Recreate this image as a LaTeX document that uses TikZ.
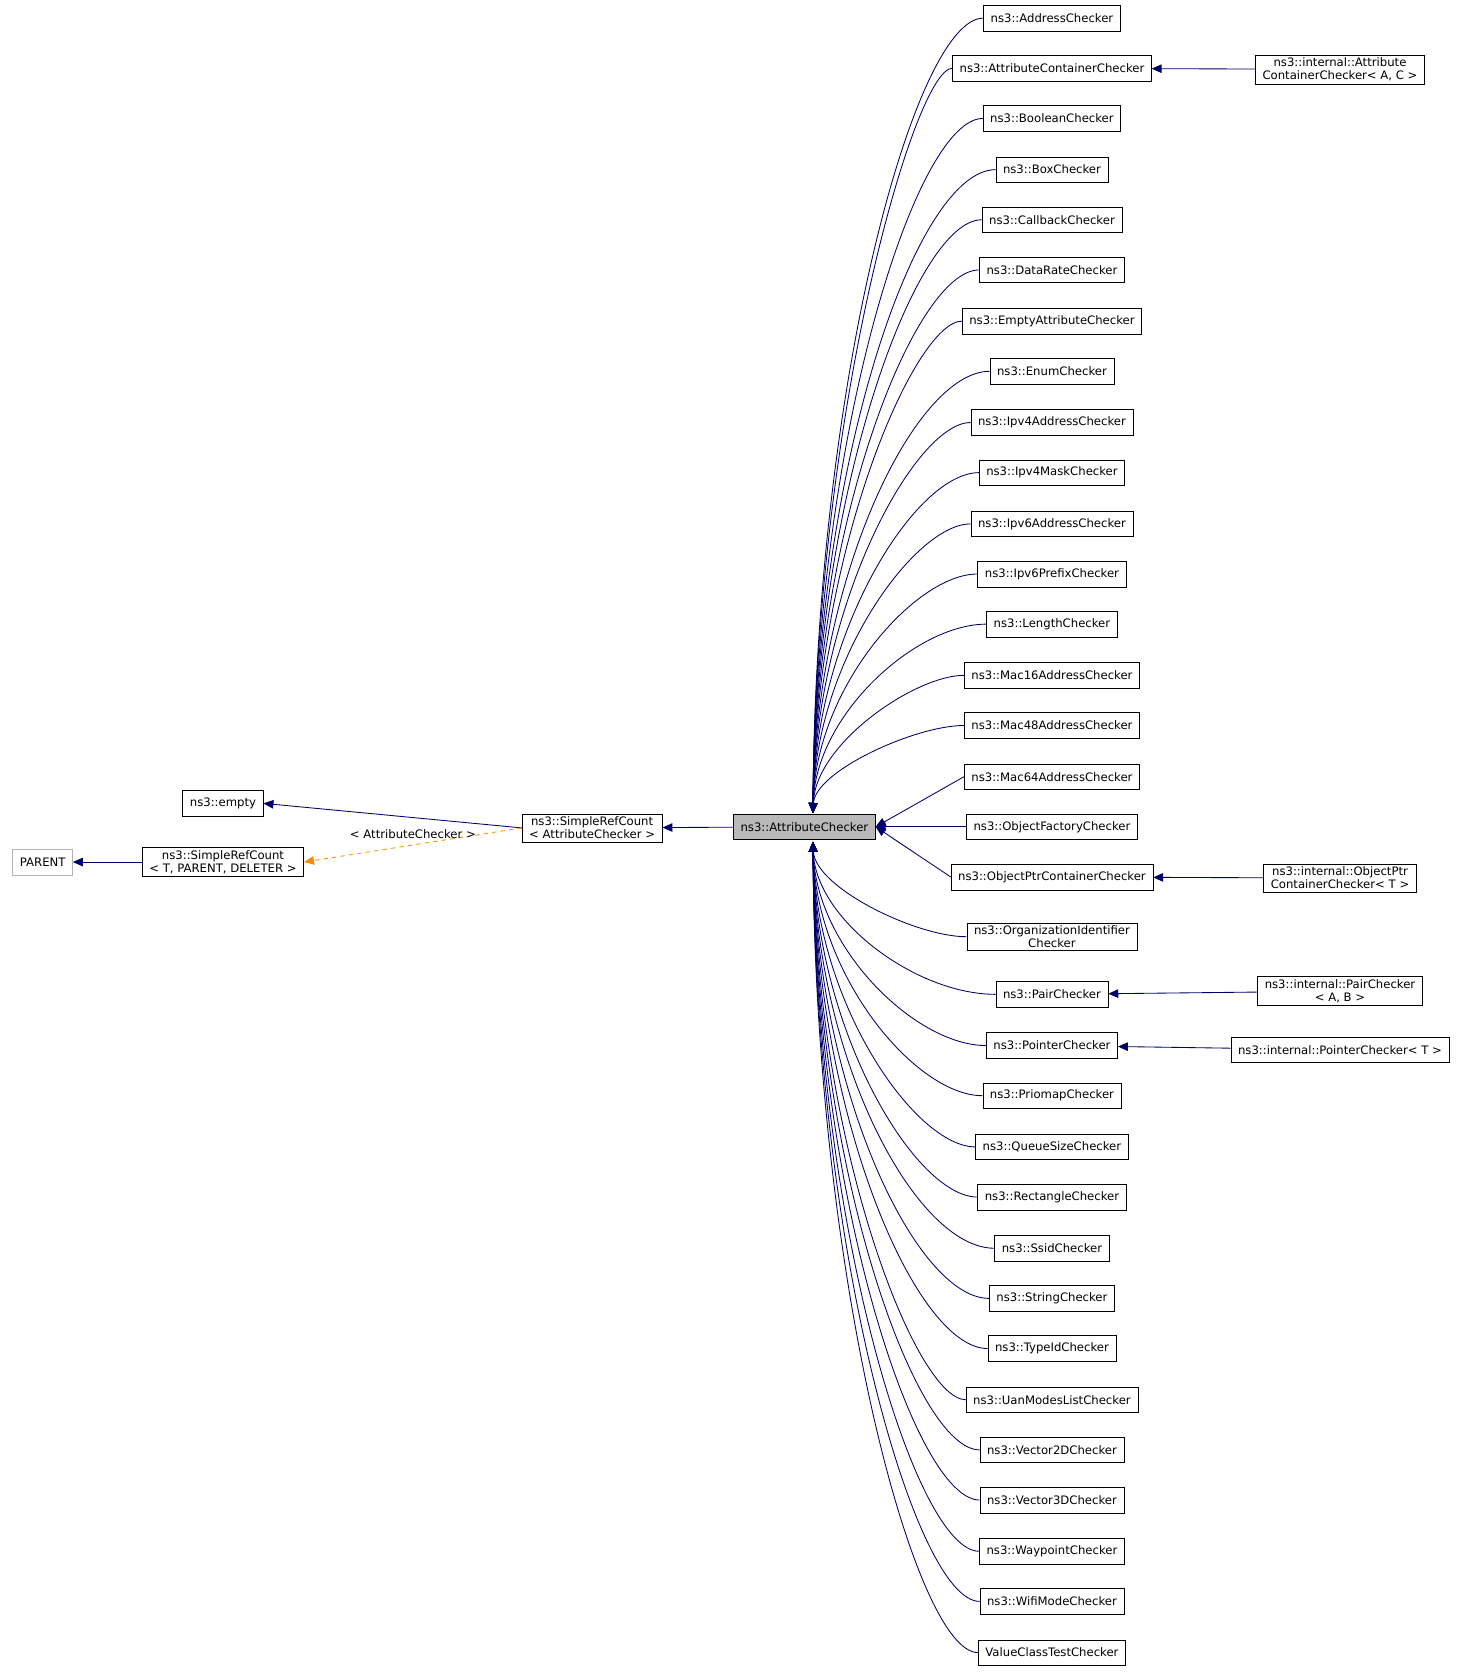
\documentclass[tikz,border=0pt]{standalone}
\usepackage{fontspec}
\setmainfont{DejaVu Sans}
\usetikzlibrary{positioning}
\usetikzlibrary{arrows.meta}

\begin{document}
\begin{tikzpicture}[x=0.75pt,y=-0.75pt]
\tikzset{
  cls/.style={draw, rectangle, align=center, font=\fontsize{8.2}{9.2}\selectfont, inner xsep=5pt, inner ysep=2pt, minimum height=18pt},
  clsext/.style={cls, draw=gray!60},
  clscur/.style={cls, fill=gray!55},
  edge/.style={draw=blue!40!black, semithick, -{Triangle[length=7pt,width=6pt]}},
  tmpl/.style={draw=orange!90!yellow, semithick, dashed, -{Triangle[length=7pt,width=6pt]}}
}
\useasboundingbox (0,0) rectangle (1380,1570);

\node [clscur] (ac) at (754,775) {ns3::AttributeChecker};
\node [cls] (src) at (555,776) {ns3::SimpleRefCount\\< AttributeChecker >};
\node [cls] (emp) at (209,753) {ns3::empty};
\node [cls] (srt) at (209,808) {ns3::SimpleRefCount\\< T, PARENT, DELETER >};
\node [clsext] (par) at (40,808) {PARENT};
\coordinate (acN) at (762,762);
\coordinate (acS) at (762,789);

\foreach \nm/\yy/\txt in {
  addr/17/{ns3::AddressChecker},
  acont/64/{ns3::AttributeContainerChecker},
  bool/111/{ns3::BooleanChecker},
  box/159/{ns3::BoxChecker},
  cb/206/{ns3::CallbackChecker},
  drate/253/{ns3::DataRateChecker},
  empty/301/{ns3::EmptyAttributeChecker},
  enum/348/{ns3::EnumChecker},
  ipfa/396/{ns3::Ipv4AddressChecker},
  ipfm/443/{ns3::Ipv4MaskChecker},
  ipsa/491/{ns3::Ipv6AddressChecker},
  ipsp/538/{ns3::Ipv6PrefixChecker},
  len/585/{ns3::LengthChecker},
  macs/633/{ns3::Mac16AddressChecker},
  macf/680/{ns3::Mac48AddressChecker},
  macx/728/{ns3::Mac64AddressChecker},
  ofac/775/{ns3::ObjectFactoryChecker},
  optr/822/{ns3::ObjectPtrContainerChecker},
  org/878/{ns3::OrganizationIdentifier\\Checker},
  pair/932/{ns3::PairChecker},
  ptr/980/{ns3::PointerChecker},
  prio/1027/{ns3::PriomapChecker},
  qsize/1075/{ns3::QueueSizeChecker},
  rect/1122/{ns3::RectangleChecker},
  ssid/1170/{ns3::SsidChecker},
  str/1217/{ns3::StringChecker},
  tid/1264/{ns3::TypeIdChecker},
  uan/1312/{ns3::UanModesListChecker},
  vtwo/1359/{ns3::Vector2DChecker},
  vthree/1406/{ns3::Vector3DChecker},
  wpt/1454/{ns3::WaypointChecker},
  wifi/1501/{ns3::WifiModeChecker},
  vct/1549/{ValueClassTestChecker}} {
  \node [cls] (n\nm) at (986,\yy) {\txt};
  \pgfmathsetmacro\dy{\yy-775}
  \pgfmathtruncatemacro\near{abs(\dy)<60 ? 1 : 0}
  \ifnum\near=1
    \path [edge] (n\nm.west) -- (ac.east);
  \else
    \pgfmathsetmacro\yc{775+0.55*\dy}
    \ifdim\dy pt<0pt
      \path [edge] (n\nm.west) .. controls (858,\yy) and (764,\yc) .. (acN);
    \else
      \path [edge] (n\nm.west) .. controls (858,\yy) and (764,\yc) .. (acS);
    \fi
  \fi
}

% template instances
\node [cls] (iac) at (1256,65) {ns3::internal::Attribute\\ContainerChecker< A, C >};
\node [cls] (iop) at (1256,823) {ns3::internal::ObjectPtr\\ContainerChecker< T >};
\node [cls] (ipa) at (1256,929) {ns3::internal::PairChecker\\< A, B >};
\node [cls] (ipt) at (1256,984) {ns3::internal::PointerChecker< T >};

\path [edge] (iac) -- (nacont);
\path [edge] (iop) -- (noptr);
\path [edge] (ipa) -- (npair);
\path [edge] (ipt) -- (nptr);

\path [edge] (ac) -- (src);
\path [edge] (src.west) -- (emp.east);
\path [tmpl] (src.west) -- node [above, font=\fontsize{8.2}{9.2}\selectfont, pos=0.5, yshift=1pt] {< AttributeChecker >} (srt.east);
\path [edge] (srt) -- (par);

\end{tikzpicture}
\end{document}
